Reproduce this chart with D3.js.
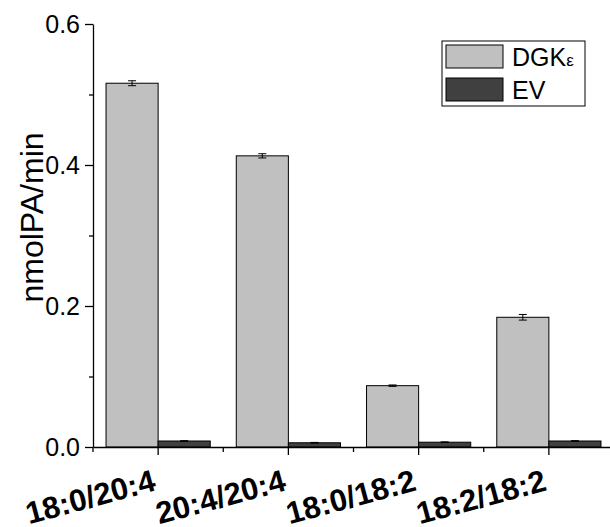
<!DOCTYPE html>
<html>
<head>
<meta charset="utf-8">
<script src="https://cdn.jsdelivr.net/npm/d3@7"></script>
<style>
  body { margin: 0; background: #fff; }
  text { font-family: "Liberation Sans", Arial, sans-serif; }
</style>
</head>
<body>
<main></main>
<script>
const sizeOfSVG = { width: 610, height: 527 };

// data
const categories = ['18:0/20:4', '20:4/20:4', '18:0/18:2', '18:2/18:2'];
const seriesNames = ['DGK', 'EV'];
const dgkValues = [0.516, 0.413, 0.087, 0.184];
const dgkErrors = [0.0035, 0.003, 0.001, 0.004];
const evValues = [0.0085, 0.006, 0.0068, 0.0085];
const evErrors = [0.0005, 0.0005, 0.0005, 0.0005];
const yTicks = [0.0, 0.2, 0.4, 0.6];
const yMinorTicks = [0.1, 0.3, 0.5];

const colors = { DGK: '#c0c0c0', EV: '#404040' };

const plot = { left: 93, right: 614, top: 24, bottom: 447 };

const svg = d3.select('main')
  .append('svg')
  .attr('width', sizeOfSVG.width)
  .attr('height', sizeOfSVG.height);

const xScale = d3.scaleBand()
  .domain(categories)
  .range([plot.left, plot.right])
  .padding(0);

const xInner = d3.scaleBand()
  .domain(seriesNames)
  .range([0, xScale.bandwidth()])
  .paddingInner(0)
  .paddingOuter(0.25);

const yScale = d3.scaleLinear()
  .domain([0, 0.6])
  .range([plot.bottom, plot.top]);

const rows = categories.map((c, i) => ({
  cat: c,
  values: [
    { key: 'DGK', v: dgkValues[i], e: dgkErrors[i] },
    { key: 'EV', v: evValues[i], e: evErrors[i] }
  ]
}));

// bars
const groups = svg.selectAll('g.cat')
  .data(rows)
  .enter()
  .append('g')
  .attr('class', 'cat')
  .attr('transform', d => `translate(${xScale(d.cat)},0)`);

groups.selectAll('rect')
  .data(d => d.values)
  .enter()
  .append('rect')
  .attr('x', d => xInner(d.key))
  .attr('y', d => yScale(d.v))
  .attr('width', xInner.bandwidth())
  .attr('height', d => yScale(0) - yScale(d.v))
  .attr('fill', d => colors[d.key])
  .attr('stroke', '#000')
  .attr('stroke-width', 1);

// error bars
const errs = groups.selectAll('g.err')
  .data(d => d.values)
  .enter()
  .append('g')
  .attr('class', 'err')
  .attr('stroke', '#000')
  .attr('stroke-width', 1);

errs.append('line')
  .attr('x1', d => xInner(d.key) + xInner.bandwidth() / 2)
  .attr('x2', d => xInner(d.key) + xInner.bandwidth() / 2)
  .attr('y1', d => yScale(d.v + d.e))
  .attr('y2', d => yScale(d.v - d.e));

[1, -1].forEach(s => {
  errs.append('line')
    .attr('x1', d => xInner(d.key) + xInner.bandwidth() / 2 - 4)
    .attr('x2', d => xInner(d.key) + xInner.bandwidth() / 2 + 4)
    .attr('y1', d => yScale(d.v + s * d.e))
    .attr('y2', d => yScale(d.v + s * d.e));
});

// y axis
svg.append('g')
  .attr('transform', `translate(${plot.left},0)`)
  .call(d3.axisLeft(yScale).tickValues(yTicks).tickFormat(d3.format('.1f')).tickSize(8).tickSizeOuter(0))
  .call(g => g.selectAll('text').attr('font-size', 25).attr('x', -13).attr('fill', '#000'))
  .call(g => g.selectAll('line, path').attr('stroke', '#000').attr('stroke-width', 1.3));

svg.append('g')
  .attr('transform', `translate(${plot.left},0)`)
  .call(d3.axisLeft(yScale).tickValues(yMinorTicks).tickFormat('').tickSize(4).tickSizeOuter(0))
  .call(g => g.select('.domain').remove())
  .call(g => g.selectAll('line').attr('stroke', '#000').attr('stroke-width', 1.3));

// x axis: long ticks at group centres, short ones between groups
svg.append('g')
  .attr('transform', `translate(0,${plot.bottom})`)
  .call(d3.axisBottom(xScale).tickSize(8).tickSizeOuter(0).tickFormat(''))
  .call(g => g.selectAll('line, path').attr('stroke', '#000').attr('stroke-width', 1.3));

svg.append('g')
  .attr('transform', `translate(0,${plot.bottom})`)
  .selectAll('line.minor')
  .data(categories)
  .enter()
  .append('line')
  .attr('class', 'minor')
  .attr('x1', d => xScale(d))
  .attr('x2', d => xScale(d))
  .attr('y1', 0)
  .attr('y2', 5)
  .attr('stroke', '#000')
  .attr('stroke-width', 1.3);

// x labels, tilted
svg.selectAll('text.xlab')
  .data(categories)
  .enter()
  .append('text')
  .attr('class', 'xlab')
  .attr('text-anchor', 'end')
  .attr('font-size', 31)
  .attr('font-weight', 'bold')
  .attr('transform', d => `translate(${xScale(d) + xScale.bandwidth() / 2 - 1},490) rotate(-15)`)
  .text(d => d);

// y title
svg.append('text')
  .attr('transform', `translate(43,${(plot.top + plot.bottom) / 2 - 18}) rotate(-90)`)
  .attr('text-anchor', 'middle')
  .attr('font-size', 32)
  .text('nmolPA/min');

// legend
const legend = svg.append('g').attr('transform', 'translate(442,41)');
legend.append('rect')
  .attr('width', 143)
  .attr('height', 65)
  .attr('fill', '#fff')
  .attr('stroke', '#000')
  .attr('stroke-width', 1);

const legendItems = legend.selectAll('g.item')
  .data(seriesNames)
  .enter()
  .append('g')
  .attr('class', 'item')
  .attr('transform', (d, i) => `translate(4,${4 + i * 33})`);

legendItems.append('rect')
  .attr('width', 57)
  .attr('height', 23)
  .attr('fill', d => colors[d])
  .attr('stroke', '#000')
  .attr('stroke-width', 1);

const legendText = legendItems.append('text')
  .attr('x', 66)
  .attr('y', 21)
  .attr('font-size', 25);

legendText.append('tspan').text(d => d);
legendText.filter(d => d === 'DGK')
  .append('tspan')
  .attr('font-size', 17)
  .text('ε');
</script>
</body>
</html>
